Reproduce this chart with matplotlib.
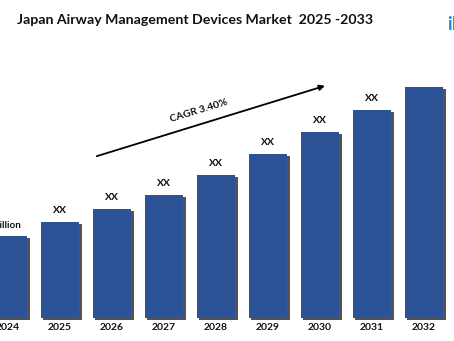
import matplotlib
matplotlib.use("Agg")
import matplotlib.pyplot as plt
import matplotlib.patheffects as pe

years = ["2024", "2025", "2026", "2027", "2028", "2029", "2030", "2031", "2032"]
values = [82, 96, 109, 123, 143, 164, 186, 208, 231]
value_labels = ["XX Million", "XX", "XX", "XX", "XX", "XX", "XX", "XX", ""]
title = "Japan Airway Management Devices Market  2025 -2033"
cagr_text = "CAGR 3.40%"

BLUE = "#2D5397"
FONT = "Lato"

fig = plt.figure(figsize=(4.54, 3.41), dpi=100)
ax = fig.add_axes([0, 0, 1, 1])
ax.set_xlim(-0.15, -0.15 + 454 / 52.0)
ax.set_ylim(-23, 318)
ax.axis("off")

xs = list(range(len(years)))
bars = ax.bar(xs, values, width=0.74, color=BLUE, zorder=3)
for b in bars:
    b.set_path_effects([pe.SimplePatchShadow(offset=(2, -1.5), shadow_rgbFace="#1a1a1a", alpha=0.75),
                        pe.Normal()])

for x, y, v in zip(xs, values, value_labels):
    if not v:
        continue
    if x == 0:
        ax.annotate(v, (x, y), xytext=(9, 4), textcoords="offset points",
                    ha="right", va="bottom", fontsize=7, fontweight="bold",
                    family=FONT, color="#111111")
    else:
        ax.annotate(v, (x, y), xytext=(0, 5), textcoords="offset points",
                    ha="center", va="bottom", fontsize=7.5, fontweight="bold",
                    family=FONT, color="#111111")

for x, yr in zip(xs, years):
    ax.text(x, -9, yr, ha="center", va="center", fontsize=7.5,
            fontweight="bold", family=FONT, color="#111111")

# CAGR arrow
ax.annotate("", xy=(6.15, 233), xytext=(1.66, 161),
            arrowprops=dict(arrowstyle="-|>", color="black", lw=1.3,
                            mutation_scale=8), zorder=4)
ax.text(3.68, 207, cagr_text, rotation=17, ha="center", va="center",
        fontsize=7.5, fontweight="bold", family=FONT, color="#111111")

fig.text(17 / 454, 1 - 20 / 341, title, ha="left", va="center",
         fontsize=10.2, fontweight="bold", family=FONT, color="#111111")

# partial logo at top-right
fig.text(447 / 454, 1 - 25 / 341, "iM", ha="left", va="center",
         fontsize=13, fontweight="bold", family=FONT, color="#1E88D0")

fig.savefig("out.png", dpi=100)
